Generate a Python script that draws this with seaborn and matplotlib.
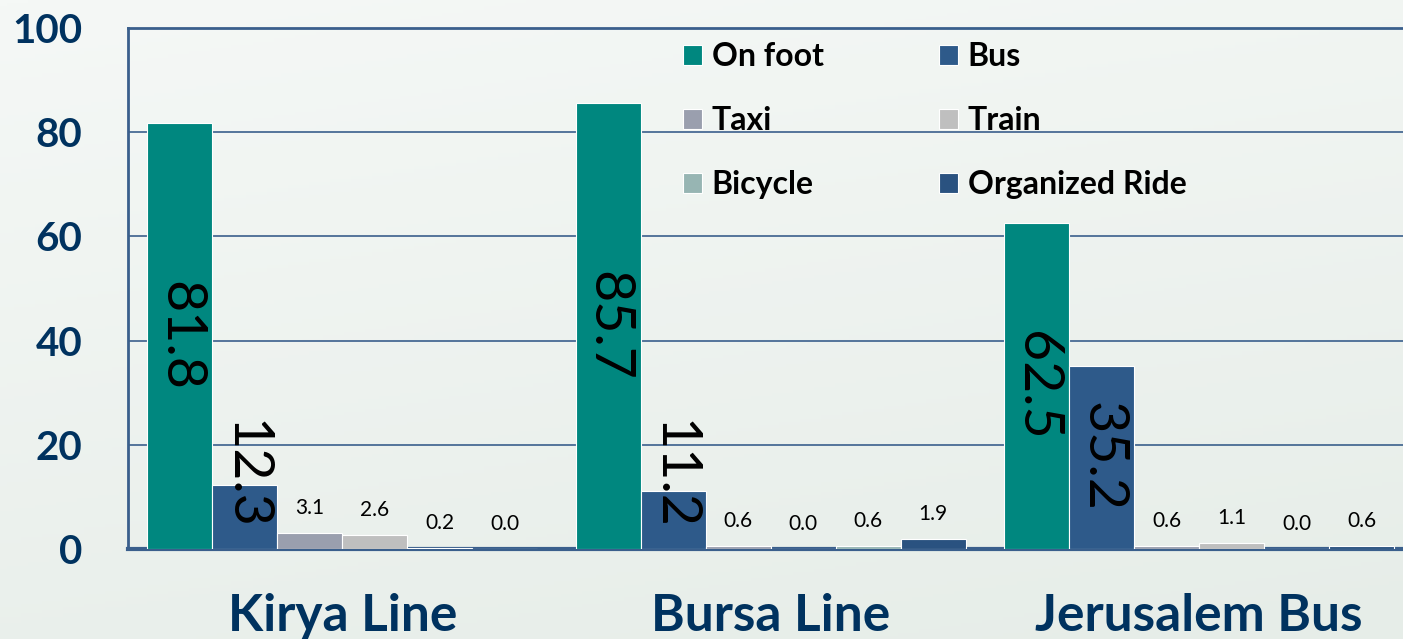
import numpy as np
import pandas as pd
import matplotlib
matplotlib.use('Agg')
import matplotlib.pyplot as plt
import seaborn as sns

# ---------- data ----------
groups = ['Kirya Line', 'Bursa Line', 'Jerusalem Bus']
modes = ['On foot', 'Bus', 'Taxi', 'Train', 'Bicycle', 'Organized Ride']
kirya = [81.8, 12.3, 3.1, 2.6, 0.2, 0.0]
bursa = [85.7, 11.2, 0.6, 0.0, 0.6, 1.9]
jerusalem = [62.5, 35.2, 0.6, 1.1, 0.0, 0.6]
yticks = [0, 20, 40, 60, 80, 100]

colors = ['#00877F', '#2E5A8A', '#9A9FAE', '#BFBFBF', '#97B5B3', '#2A5280']

rows = []
for g, vals in zip(groups, [kirya, bursa, jerusalem]):
    for m, v in zip(modes, vals):
        rows.append({'group': g, 'mode': m, 'share': v})
df = pd.DataFrame(rows)

sns.set_theme(style='white')
plt.rcParams['font.family'] = ['Lato', 'DejaVu Sans']

navy = '#00325F'
line_col = '#3A5F8C'

fig = plt.figure(figsize=(14.03, 6.39), dpi=100)

# gradient background
bg = fig.add_axes([0, 0, 1, 1], zorder=-10)
yy, xx = np.mgrid[0:1:200j, 0:1:200j]
grad = 0.75 * yy + 0.25 * xx
bg.imshow(grad, cmap=matplotlib.colors.LinearSegmentedColormap.from_list(
    'bg', ['#F5F8F6', '#E6EDE8']), aspect='auto', extent=[0, 1, 0, 1], origin='upper')
bg.axis('off')

ax = fig.add_axes([128 / 1403, 90 / 639, 1275 / 1403, 521 / 639])
ax.set_facecolor('none')

sns.barplot(data=df, x='group', y='share', hue='mode', hue_order=modes,
            palette=colors, saturation=1, width=0.91, gap=0, edgecolor='white',
            linewidth=0.8, ax=ax, zorder=3)

ax.set_xlim(-0.5, 2.476)
ax.set_ylim(0, 100)
ax.set_yticks(yticks)
ax.yaxis.grid(True, color=line_col, linewidth=1.2)
ax.set_axisbelow(True)
ax.set_xlabel('')
ax.set_ylabel('')

for s in ['left', 'top', 'bottom']:
    ax.spines[s].set_color(line_col)
ax.spines['left'].set_linewidth(2.0)
ax.spines['top'].set_linewidth(2.0)
ax.spines['bottom'].set_linewidth(3.0)
ax.spines['right'].set_visible(False)

ax.tick_params(axis='y', length=0, pad=33, labelsize=29, labelcolor=navy)
ax.tick_params(axis='x', length=0, pad=32, labelsize=37, labelcolor=navy)
for t in ax.get_yticklabels() + ax.get_xticklabels():
    t.set_fontweight('bold')

# value labels
for cont in ax.containers:
    for p in cont.patches:
        v = p.get_height()
        xc = p.get_x() + p.get_width() / 2
        if v >= 10:
            ax.text(xc, max(v / 2, 14.2), f'{v:.1f}', rotation=270,
                    ha='center', va='center', fontsize=40, color='black', zorder=5)
        else:
            ax.text(xc, v + 4.8, f'{v:.1f}', ha='center', va='center',
                    fontsize=15, color='black', zorder=5)

# legend: column-wise order
handles, labels = ax.get_legend_handles_labels()
order = [0, 2, 4, 1, 3, 5]
ax.legend([handles[i] for i in order], [labels[i] for i in order],
          ncol=2, frameon=False, loc='upper left',
          bbox_to_anchor=(683 / 1403, 1 - 42 / 639), bbox_transform=fig.transFigure,
          borderaxespad=0, borderpad=0, handlelength=0.6, handleheight=0.6,
          handletextpad=0.3, columnspacing=3.6, labelspacing=1.1,
          labelcolor='black', prop={'size': 23, 'weight': 'bold'})

fig.savefig('out.png', dpi=100)
